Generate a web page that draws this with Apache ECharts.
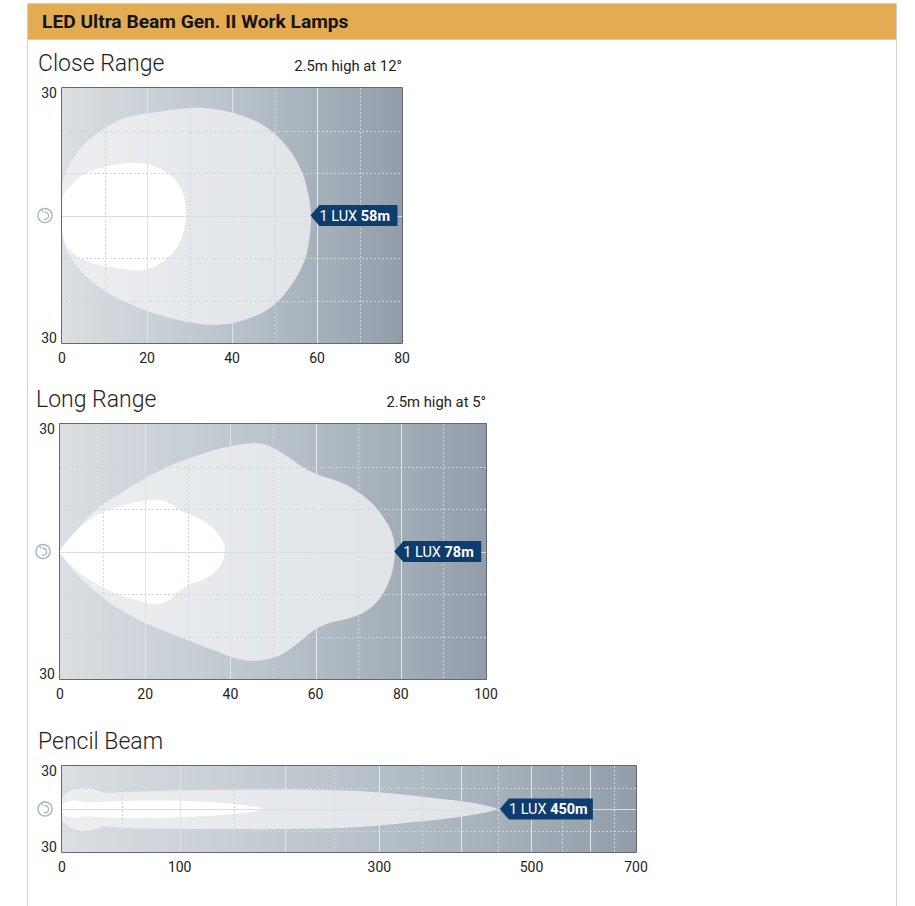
<!DOCTYPE html>
<html><head><meta charset="utf-8">
<script src="https://cdn.jsdelivr.net/npm/echarts@6/dist/echarts.min.js"></script>
<style>html,body{margin:0;padding:0;background:#fff}#c{width:915px;height:906px}</style>
</head><body><div id="c"></div>
<script>
// ---------- DATA ----------
const headerTitle = 'LED Ultra Beam Gen. II Work Lamps';
const chartTitles = ['Close Range', 'Long Range', 'Pencil Beam'];
const chartSubtitles = ['2.5m high at 12°', '2.5m high at 5°', ''];
const xMaxes = [80, 100, 700];
const yLimit = 30;
const xTickLabelsClose = [0, 20, 40, 60, 80];
const xTickLabelsLong = [0, 20, 40, 60, 80, 100];
const xTickLabelsPencil = [0, 100, 300, 500, 700];
const yTickLabels = [-30, 30];
const luxLabel = '1 LUX';
const luxDistances = [58, 78, 450];

const majorXClose = [20, 40, 60];
const minorXClose = [10, 30, 50, 70];
const majorXLong = [20, 40, 60, 80];
const minorXLong = [10, 30, 50, 70, 90];
const majorXPencil = [100, 200, 300, 400, 500, 600];
const minorXPencil = [50, 150, 250, 350, 450, 550, 650];
const minorYClose = [-20, -10, 10, 20];
const minorYLong = [-20, -10, 10, 20];
const minorYPencil = [-15, 15];

// beam outlines [distance m, lateral m]
const closeOuter = [[0,0],[0.2,7.8],[3.1,14.1],[7.1,18.4],[14.1,22.7],[22,24.3],[29.8,25.3],[35.3,25.1],[42.4,23.5],[48.6,20.4],[53.3,15.7],[56.5,10.2],[58,4.7],[58.6,0],[58.2,-5.5],[56.9,-11],[53.3,-17.3],[48.6,-22],[42.4,-24.7],[36.9,-25.7],[29.8,-25.1],[22,-23.1],[14.1,-20],[7.8,-16.1],[3.1,-11.4],[0.4,-6.3]];
const closeInner = [[0,0],[0.2,4.3],[1.6,6.4],[4.7,9.4],[8.6,11.1],[14.1,12.2],[17.3,12.4],[21.2,11.8],[25.1,9.8],[27.8,6.7],[29,3.1],[29.2,0],[28.6,-3.9],[26.8,-7.8],[23.5,-11],[18.8,-12.9],[14.1,-12.5],[8.6,-11.6],[3.9,-9.8],[0.9,-6.7],[0,-3.1]];
const longOuter = [[0,0],[2.2,3.1],[5.3,6.7],[9.2,10.4],[14.7,14],[20.1,17.3],[26.4,20.4],[32.6,22.7],[39.7,24.7],[45.5,25.5],[49,24.9],[52.9,22.7],[56.8,20],[60.7,18],[65.4,16.5],[69.3,14.5],[73.2,11.4],[76.3,7.5],[78.1,3.9],[78.6,0],[78.2,-3.9],[76.9,-7.8],[74.8,-11.4],[71.7,-14.1],[67.8,-15.7],[63.1,-16.9],[59.2,-18.8],[55.3,-22],[51.4,-24.5],[45.9,-25.7],[41.2,-25.1],[35.8,-23.1],[30.3,-21],[24.8,-18.8],[18.6,-16.1],[12.3,-12.5],[6.9,-8.2],[3,-4.3],[0.6,-1.2]];
const longInner = [[0,0],[3,3.9],[6.9,7.5],[11.6,9.8],[17,11.4],[22.5,12.2],[25.6,11.4],[28.7,9.4],[31.9,8.2],[35,6.3],[37.3,3.9],[38.5,1.6],[38.7,0],[38.1,-2.4],[36.5,-4.7],[33.4,-6.7],[30.3,-7.8],[27.9,-9.4],[25.6,-11.4],[22.5,-12.4],[18.6,-11.6],[13.1,-9.8],[7.7,-7.1],[3.7,-4.3],[1,-1.6]];
const pencilOuter = [[0,7],[2.4,10],[7.9,13],[13,14.5],[24,14.4],[30,12.5],[36,11.3],[50,11.8],[78,12.5],[100,13],[150,13.5],[200,13.6],[256,13],[300,11.5],[348,8.8],[385,6.4],[416,4.1],[434,2.3],[449,0],[434,-2.3],[416,-4],[385,-6.4],[348,-8.7],[300,-11.5],[256,-13.3],[200,-14],[150,-14],[100,-13.8],[50,-13],[36,-12],[30,-13],[24,-14.8],[13,-15.2],[7.9,-13.3],[2.4,-10.2],[0,-7]];
const pencilInner = [[0,2.5],[3,4.5],[8,5.8],[14,5.6],[20,4.5],[30,4.8],[50,5.5],[78,6],[108,5.6],[138,4.2],[164,2.3],[178,0],[164,-2.3],[138,-4.2],[108,-5.6],[78,-6.3],[50,-6.2],[30,-5.5],[20,-5.2],[14,-6],[8,-6],[3,-4.8],[0,-2.5]];

// ---------- SCALES ----------
// the pencil-beam distance axis is compressed (quadratic scale)
const PENCIL_A = 0.2154, PENCIL_B = -0.01036;
function pencilScale(m) {
  const u = m / 100;
  const full = PENCIL_A * 7 + PENCIL_B * 49;
  return 700 * (PENCIL_A * u + PENCIL_B * u * u) / full;
}
const identity = v => v;

// ---------- LAYOUT / STYLE ----------
const FONT = 'Roboto, "Open Sans", sans-serif';
const charts = [
  { outer: closeOuter, inner: closeInner, ticks: xTickLabelsClose, majorX: majorXClose, minorX: minorXClose, minorY: minorYClose, lux: luxDistances[0], xMax: xMaxes[0], map: identity,
    grid: { left: 62, top: 88, width: 340, height: 255 }, boxW: 87, title: chartTitles[0], sub: chartSubtitles[0], titleY: 63 },
  { outer: longOuter, inner: longInner, ticks: xTickLabelsLong, majorX: majorXLong, minorX: minorXLong, minorY: minorYLong, lux: luxDistances[1], xMax: xMaxes[1], map: identity,
    grid: { left: 60, top: 424, width: 426, height: 255 }, boxW: 87, title: chartTitles[1], sub: chartSubtitles[1], titleY: 399 },
  { outer: pencilOuter, inner: pencilInner, ticks: xTickLabelsPencil, majorX: majorXPencil, minorX: minorXPencil, minorY: minorYPencil, lux: luxDistances[2], xMax: xMaxes[2], map: pencilScale,
    grid: { left: 62, top: 766, width: 574, height: 86 }, boxW: 93, title: chartTitles[2], sub: chartSubtitles[2], titleY: 741 }
];

const bgGradient = { type: 'linear', x: 0, y: 0, x2: 1, y2: 0,
  colorStops: [{ offset: 0, color: '#dbdfe3' }, { offset: 0.5, color: '#bac3cb' }, { offset: 1, color: '#919eaa' }] };
const outerFill = { type: 'linear', x: 0, y: 0, x2: 1, y2: 0,
  colorStops: [{ offset: 0, color: '#eceef0' }, { offset: 1, color: '#e1e4e7' }] };

const grids = [], xAxes = [], yAxes = [], series = [];
const graphics = [
  { type: 'rect', shape: { x: 27.5, y: 3.5, width: 869, height: 36 }, style: { fill: '#E3AB52', stroke: '#cfcfcf', lineWidth: 1 } },
  { type: 'line', shape: { x1: 27.5, y1: 40, x2: 27.5, y2: 906 }, style: { stroke: '#d4d4d4', lineWidth: 1 } },
  { type: 'line', shape: { x1: 896.5, y1: 40, x2: 896.5, y2: 906 }, style: { stroke: '#d4d4d4', lineWidth: 1 } },
  { type: 'text', x: 42, y: 21.5, style: { text: headerTitle, font: 'bold 19.2px ' + FONT, fill: '#141414', verticalAlign: 'middle' } }
];

const crisp = v => Math.round(v) + 0.5;

charts.forEach((c, i) => {
  grids.push(Object.assign({ show: true, borderWidth: 0, backgroundColor: bgGradient, containLabel: false }, c.grid));
  const tickVals = c.ticks.map(c.map);
  xAxes.push({
    gridIndex: i, type: 'value', min: 0, max: c.xMax,
    axisLine: { show: false }, axisTick: { show: false }, splitLine: { show: false },
    axisLabel: {
      customValues: tickVals, color: '#222', fontSize: 14, fontFamily: FONT, margin: 8,
      formatter: v => { let best = c.ticks[0], d = Infinity; c.ticks.forEach((t, k) => { const dd = Math.abs(tickVals[k] - v); if (dd < d) { d = dd; best = t; } }); return String(best); }
    }
  });
  yAxes.push({
    gridIndex: i, type: 'value', min: -yLimit, max: yLimit, interval: yLimit,
    axisLine: { show: false }, axisTick: { show: false }, splitLine: { show: false },
    axisLabel: { customValues: yTickLabels, color: '#222', fontSize: 14, fontFamily: FONT, margin: 5, lineHeight: 10,
      verticalAlignMinLabel: 'bottom', verticalAlignMaxLabel: 'top',
      formatter: v => String(Math.abs(v)) }
  });

  // titles
  graphics.push({ type: 'text', x: c.grid.left - 24, y: c.titleY, style: { text: c.title, font: '300 23px ' + FONT, fill: '#1e1e1e', verticalAlign: 'middle' } });
  if (c.sub) graphics.push({ type: 'text', x: c.grid.left + c.grid.width, y: c.titleY + 3, style: { text: c.sub, font: '14.8px ' + FONT, fill: '#222', align: 'right', verticalAlign: 'middle' } });

  const map = c.map;
  // beam shapes
  [[c.outer, outerFill], [c.inner, '#ffffff']].forEach(([pts, fill]) => {
    series.push({
      type: 'custom', coordinateSystem: 'cartesian2d', xAxisIndex: i, yAxisIndex: i, clip: true, silent: true,
      data: [[0, 0]],
      renderItem: (params, api) => ({
        type: 'polygon',
        shape: { points: pts.map(p => api.coord([map(p[0]), p[1]])), smooth: 0.35 },
        style: { fill: fill }
      })
    });
  });

  // grid lines and frame (drawn over the beam)
  series.push({
    type: 'custom', coordinateSystem: 'cartesian2d', xAxisIndex: i, yAxisIndex: i, clip: false, silent: true,
    data: [[0, 0]],
    renderItem: (params, api) => {
      const ch = [];
      const tl = api.coord([0, yLimit]), br = api.coord([c.xMax, -yLimit]);
      c.minorX.forEach(x => {
        const px = crisp(api.coord([map(x), 0])[0]);
        ch.push({ type: 'line', shape: { x1: px, y1: tl[1], x2: px, y2: br[1] }, style: { stroke: '#d0d5da', lineWidth: 1, lineDash: [2, 2] } });
      });
      c.minorY.forEach(y => {
        const py = crisp(api.coord([0, y])[1]);
        ch.push({ type: 'line', shape: { x1: tl[0], y1: py, x2: br[0], y2: py }, style: { stroke: '#d0d5da', lineWidth: 1, lineDash: [2, 2] } });
      });
      c.majorX.forEach(x => {
        const px = crisp(api.coord([map(x), 0])[0]);
        ch.push({ type: 'line', shape: { x1: px, y1: tl[1], x2: px, y2: br[1] }, style: { stroke: '#e1e5e9', lineWidth: 1 } });
      });
      const cy = crisp(api.coord([0, 0])[1]);
      ch.push({ type: 'line', shape: { x1: tl[0], y1: cy, x2: br[0], y2: cy }, style: { stroke: '#d9dee2', lineWidth: 1 } });
      ch.push({ type: 'rect', shape: { x: crisp(tl[0]) - 1, y: crisp(tl[1]) - 1, width: Math.round(br[0] - tl[0]) + 1, height: Math.round(br[1] - tl[1]) + 1 },
        style: { fill: null, stroke: '#686868', lineWidth: 1 } });
      return { type: 'group', children: ch };
    }
  });

  // 1 LUX marker and lamp icon
  series.push({
    type: 'custom', coordinateSystem: 'cartesian2d', xAxisIndex: i, yAxisIndex: i, clip: false, silent: true,
    data: [[c.lux, 0]],
    renderItem: (params, api) => {
      const d = api.value(0);
      const p = api.coord([map(d), 0]);
      const o = api.coord([0, 0]);
      const h = 10.5, tip = 9, w = c.boxW;
      return { type: 'group', children: [
        { type: 'polygon', shape: { points: [[p[0] + 2, p[1]], [p[0] + 2 + tip, p[1] - h], [p[0] + 2 + w, p[1] - h], [p[0] + 2 + w, p[1] + h], [p[0] + 2 + tip, p[1] + h]] },
          style: { fill: '#0c3d6e' } },
        { type: 'text', x: p[0] + 2 + tip, y: p[1] + 0.5,
          style: { text: '{a|' + luxLabel + ' }{b|' + d + 'm}', verticalAlign: 'middle', fill: '#fff',
            rich: { a: { fontSize: 14.5, fontFamily: FONT, color: '#fff' }, b: { fontSize: 14.5, fontFamily: FONT, fontWeight: 'bold', color: '#fff' } } } },
        { type: 'circle', shape: { cx: o[0] - 17, cy: o[1], r: 7 }, style: { fill: '#fff', stroke: '#a7b5c2', lineWidth: 1.4 } },
        { type: 'arc', shape: { cx: o[0] - 17, cy: o[1] + 0.3, r: 3.6, startAngle: -Math.PI * 0.55, endAngle: Math.PI * 0.6, clockwise: true }, style: { fill: null, stroke: '#a7b5c2', lineWidth: 1.3 } },
        { type: 'line', shape: { x1: o[0] - 18.8, y1: o[1] - 3.3, x2: o[0] - 20.5, y2: o[1] - 5 }, style: { stroke: '#a7b5c2', lineWidth: 1.3 } }
      ] };
    }
  });
});

const chart = echarts.init(document.getElementById('c'), null, { renderer: 'svg' });
chart.setOption({
  animation: false,
  backgroundColor: '#ffffff',
  grid: grids, xAxis: xAxes, yAxis: yAxes, series: series, graphic: graphics
});
</script></body></html>
